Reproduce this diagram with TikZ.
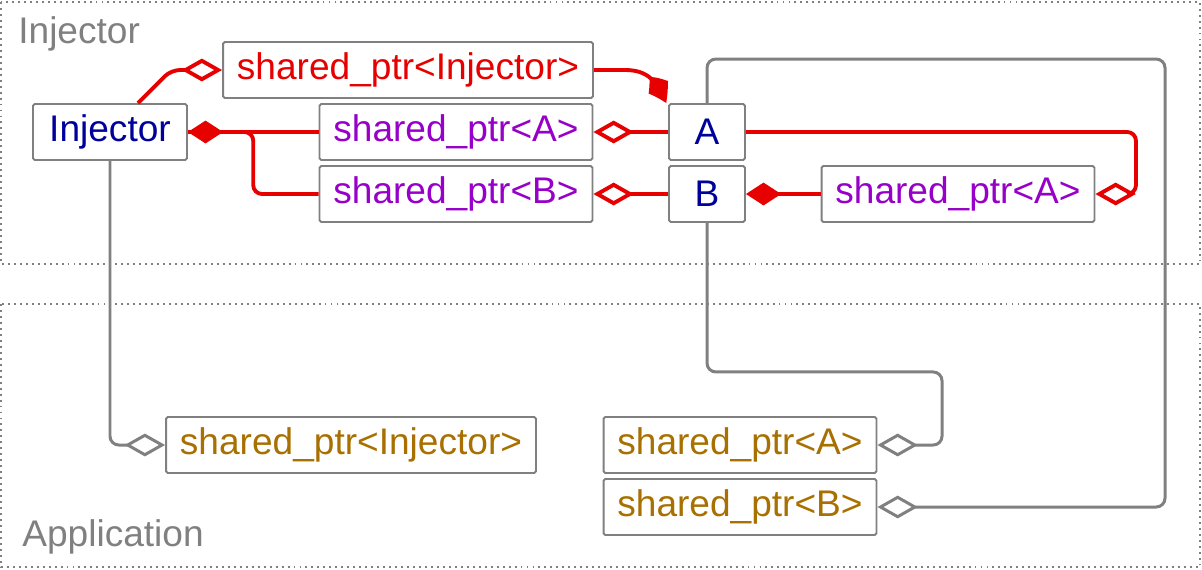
\documentclass[tikz,border=0pt]{standalone}
\usepackage{fontspec}
\setmainfont{Liberation Sans}
\usepackage{xcolor}
\usetikzlibrary{arrows.meta,bending,calc}

\definecolor{ptrred}{RGB}{230,0,0}
\definecolor{ptrpurple}{RGB}{150,0,200}
\definecolor{ptrbrown}{RGB}{168,112,0}
\definecolor{navy}{RGB}{0,0,155}
\definecolor{linegray}{RGB}{128,128,128}

\begin{document}
\begin{tikzpicture}[x=0.02cm, y=-0.02cm,
    every node/.style={font=\fontsize{21.1}{25}\selectfont},
    box/.style={draw=linegray, line width=1.1pt, rounded corners=1pt, minimum height=1.12cm, inner sep=0pt},
    ownline/.style={ptrred, line width=2.2pt, rounded corners=5pt},
    refline/.style={linegray, line width=1.7pt, rounded corners=5pt},
    weak/.style={-{Diamond[open, length=23pt, width=13pt]}},
    strong/.style={-{Diamond[length=20pt, width=13pt]}},
    region/.style={draw=linegray, line width=1.1pt, dash pattern=on 1.1pt off 2.3pt}]
    \useasboundingbox (0,0) rectangle (1202,569);

    % Regions
    \draw[region] (1,2) rectangle (1200,264);
    \draw[region] (1,304) rectangle (1200,567);
    \node[anchor=base west, inner sep=0pt, text=linegray] (injlabel) at (18,43) {Injector};
    \node[anchor=base west, inner sep=0pt, text=linegray] (applabel) at (22,546) {Application};

    % Injector side
    \node[box, minimum width=3.08cm, text=navy] (inj) at (110,132) {Injector};
    \node[box, minimum width=7.4cm, text=ptrred] (injptr) at (408,70) {shared\_ptr<Injector>};
    \node[box, minimum width=5.46cm, text=ptrpurple] (aptr) at (456,132) {shared\_ptr<A>};
    \node[box, minimum width=5.46cm, text=ptrpurple] (bptr) at (456,194) {shared\_ptr<B>};
    \node[box, minimum width=1.52cm, text=navy] (a) at (707,132) {A};
    \node[box, minimum width=1.52cm, text=navy] (b) at (707,194) {B};
    \node[box, minimum width=5.46cm, text=ptrpurple] (bholdsa) at (958,194) {shared\_ptr<A>};

    % Application side
    \node[box, minimum width=7.4cm, text=ptrbrown] (appinj) at (351,445) {shared\_ptr<Injector>};
    \node[box, minimum width=5.46cm, text=ptrbrown] (appa) at (740,445) {shared\_ptr<A>};
    \node[box, minimum width=5.46cm, text=ptrbrown] (appb) at (740,507) {shared\_ptr<B>};

    % Ownership
    \draw[ownline, weak] ([xshift=0.56cm]inj.north) -- ([xshift=-1.02cm]injptr.west) -- (injptr.west);
    \draw[ownline, -{Diamond[length=20pt, width=13pt, bend]}] (injptr.east) -- ++(22,0)
        .. controls +(28,0) and +(-10,-26) .. ([xshift=-0.04cm]a.north west);
    \draw[ownline] (aptr.west) -- (inj.east);
    \draw[ownline, strong] (bptr.west) -| ($(inj.east)!0.5!(aptr.west)$) -- (inj.east);
    \draw[ownline, weak] (a.west) -- (aptr.east);
    \draw[ownline, weak] (b.west) -- (bptr.east);
    \draw[ownline, strong] (bholdsa.west) -- (b.east);
    \draw[ownline, weak] (a.east) -- ++(390,0) |- (bholdsa.east);

    % References held by the application
    \draw[refline, weak] (a.north) -- ++(0,-44) -- ++(458,0) |- (appb.east);
    \draw[refline, weak] (b.south) -- ++(0,149) -- ++(235,0) |- (appa.east);
    \draw[refline, weak] (inj.south) |- (appinj.west);
\end{tikzpicture}
\end{document}
